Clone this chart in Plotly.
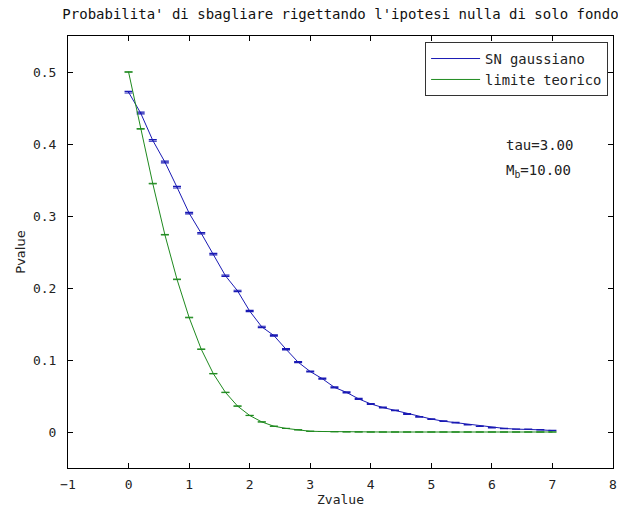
import plotly.graph_objects as go

zvalue = [0.0, 0.2, 0.4, 0.6, 0.8, 1.0, 1.2, 1.4, 1.6, 1.8, 2.0, 2.2, 2.4, 2.6, 2.8, 3.0,
          3.2, 3.4, 3.6, 3.8, 4.0, 4.2, 4.4, 4.6, 4.8, 5.0, 5.2, 5.4, 5.6, 5.8, 6.0,
          6.2, 6.4, 6.6, 6.8, 7.0]

sn_gauss = [0.472, 0.443, 0.405, 0.375, 0.340, 0.304, 0.276, 0.247, 0.217, 0.196, 0.168,
            0.146, 0.134, 0.115, 0.097, 0.084, 0.074, 0.062, 0.055, 0.046, 0.039, 0.034,
            0.030, 0.025, 0.021, 0.018, 0.015, 0.013, 0.010, 0.008, 0.006, 0.005, 0.004,
            0.004, 0.003, 0.002]
sn_err = [0.0012, 0.0012, 0.0012, 0.0011, 0.0011, 0.0011, 0.0010, 0.0010, 0.0010, 0.0009,
          0.0009, 0.0009, 0.0008, 0.0008, 0.0008, 0.0007, 0.0007, 0.0007, 0.0006, 0.0006,
          0.0006, 0.0005, 0.0005, 0.0005, 0.0004, 0.0004, 0.0004, 0.0003, 0.0003, 0.0003,
          0.0003, 0.0002, 0.0002, 0.0002, 0.0002, 0.0002]

limite = [0.500, 0.421, 0.345, 0.274, 0.212, 0.159, 0.115, 0.081, 0.055, 0.036, 0.023,
          0.014, 0.008, 0.005, 0.003, 0.001, 0.0007, 0.0004, 0.0002, 0.0001, 0.0, 0.0,
          0.0, 0.0, 0.0, 0.0, 0.0, 0.0, 0.0, 0.0, 0.0, 0.0, 0.0, 0.0, 0.0, 0.0]
lim_err = [0.0004, 0.0004, 0.0004, 0.0004, 0.0004, 0.0004, 0.0003, 0.0003, 0.0003, 0.0003,
           0.0002, 0.0002, 0.0002, 0.0001, 0.0001, 0.0, 0.0, 0.0, 0.0, 0.0, 0.0, 0.0, 0.0,
           0.0, 0.0, 0.0, 0.0, 0.0, 0.0, 0.0, 0.0, 0.0, 0.0, 0.0, 0.0, 0.0]

x_ticks = [-1, 0, 1, 2, 3, 4, 5, 6, 7, 8]
y_ticks = [0, 0.1, 0.2, 0.3, 0.4, 0.5]

BLUE = "#1a1ab4"
GREEN = "#1f8a1f"
FONT = "DejaVu Sans Mono"

fig = go.Figure()
fig.add_trace(go.Scatter(
    x=zvalue, y=sn_gauss, mode="lines", name="SN gaussiano",
    line=dict(color=BLUE, width=1),
    error_y=dict(type="data", array=sn_err, visible=True, color=BLUE, thickness=1.2, width=4),
))
fig.add_trace(go.Scatter(
    x=zvalue, y=limite, mode="lines", name="limite teorico",
    line=dict(color=GREEN, width=1),
    error_y=dict(type="data", array=lim_err, visible=True, color=GREEN, thickness=1, width=4),
))

axis_common = dict(
    showline=True, linecolor="black", linewidth=1, mirror="ticks",
    ticks="inside", ticklen=5, tickcolor="black", showgrid=False, zeroline=False,
    tickfont=dict(family=FONT, size=13, color="#222"),
)
fig.update_xaxes(range=[-1, 8], tickvals=x_ticks, ticklabelstandoff=4, ticklabeloverflow="allow",
                 title=dict(text="Zvalue", font=dict(family=FONT, size=13, color="#222"), standoff=4),
                 **axis_common)
fig.update_yaxes(range=[-0.05, 0.55], tickvals=y_ticks, ticklabelstandoff=8,
                 title=dict(text="Pvalue", font=dict(family="DejaVu Sans", size=13, color="#222"), standoff=4),
                 **axis_common)

fig.add_annotation(x=6.2, y=0.399, xref="x", yref="y", text="tau=3.00", showarrow=False,
                   xanchor="left", yanchor="middle", font=dict(family=FONT, size=14, color="#222"))
fig.add_annotation(x=6.2, y=0.362, xref="x", yref="y", text="M<sub>b</sub>=10.00", showarrow=False,
                   xanchor="left", yanchor="middle", font=dict(family=FONT, size=14, color="#222"))

fig.update_layout(
    width=618, height=513,
    margin=dict(l=68, r=1, t=36, b=45),
    paper_bgcolor="white", plot_bgcolor="white",
    title=dict(text="Probabilita' di sbagliare rigettando l'ipotesi nulla di solo fondo",
               x=0.5, xref="paper", xanchor="center", y=1 - 14 / 513, yref="container", yanchor="middle",
               font=dict(family=FONT, size=14, color="#111")),
    legend=dict(x=0.991, y=0.986, xanchor="right", yanchor="top", bgcolor="white",
                bordercolor="#333", borderwidth=1, itemwidth=49, tracegroupgap=0,
                font=dict(family=FONT, size=13.8, color="#222")),
    showlegend=True,
)

fig.write_html("out.html")
